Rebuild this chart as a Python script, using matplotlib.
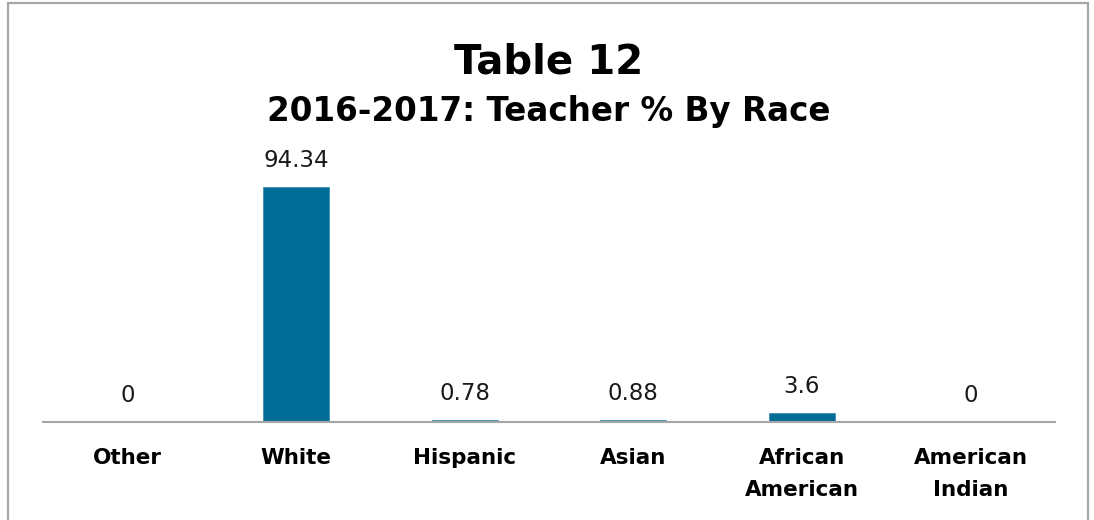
import matplotlib
matplotlib.use("Agg")
import matplotlib.pyplot as plt
from matplotlib.patches import Rectangle

categories = ["Other", "White", "Hispanic", "Asian", "African\nAmerican", "American\nIndian"]
values = [0, 94.34, 0.78, 0.88, 3.6, 0]
value_labels = ["0", "94.34", "0.78", "0.88", "3.6", "0"]

W, H = 1094, 520
fig = plt.figure(figsize=(W / 100, H / 100), dpi=100)

# outer frame (bottom edge runs off the canvas)
fig.patches.append(Rectangle((8 / W, -0.05), 1080 / W, (H - 3) / H + 0.05,
                             transform=fig.transFigure, fill=False,
                             edgecolor="#a6a6a6", linewidth=1.6))

ax = fig.add_axes([43 / W, (H - 422) / H, 1012 / W, 249 / H])
x = range(len(categories))
ax.bar(x, values, width=0.39, color="#006d97", edgecolor="#3f8fb0", linewidth=0.6)
ax.set_xlim(-0.5, len(categories) - 0.5)
ax.set_ylim(0, 100)

for xi, v, lab in zip(x, values, value_labels):
    ax.annotate(lab, (xi, v), xytext=(0, 11), textcoords="offset points",
                ha="center", va="bottom", fontsize=16.5, color="#1a1a1a")

for s in ["top", "right", "left"]:
    ax.spines[s].set_visible(False)
ax.spines["bottom"].set_color("#a6a6a6")
ax.spines["bottom"].set_linewidth(1.5)
ax.set_yticks([])
ax.set_xticks(list(x))
ax.set_xticklabels(categories, fontsize=15.5, fontweight="bold", linespacing=1.75)
ax.tick_params(axis="x", length=0, pad=19)

fig.text(549 / W, 1 - 62 / H, "Table 12", ha="center", va="center",
         fontsize=29, fontweight="bold")
fig.text(549 / W, 1 - 112 / H, "2016-2017: Teacher % By Race", ha="center",
         va="center", fontsize=23.5, fontweight="bold")

fig.savefig("out.png", dpi=100)
